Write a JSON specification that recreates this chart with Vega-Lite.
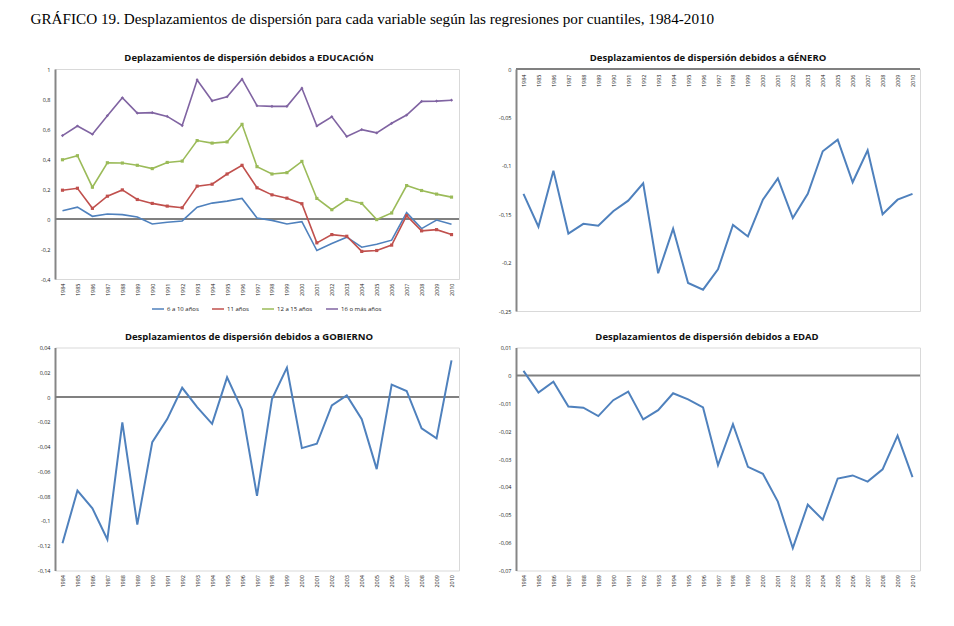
{
  "$schema": "https://vega.github.io/schema/vega-lite/v6.json",
  "padding": {"left": 28, "top": 12, "right": 10, "bottom": 5},
  "background": "white",
  "title": {
    "text": "GRÁFICO 19. Desplazamientos de dispersión para cada variable según las regresiones por cuantiles, 1984-2010",
    "anchor": "start",
    "font": "Liberation Serif",
    "fontSize": 15.2,
    "fontWeight": "normal",
    "color": "#000000",
    "dx": 2,
    "offset": 25.2
  },
  "config": {
    "locale": {
      "number": {
        "decimal": ",",
        "thousands": ".",
        "grouping": [3],
        "currency": ["", " €"],
        "minus": "-"
      }
    },
    "view": {"stroke": "#d9d9d9", "strokeWidth": 1},
    "title": {
      "font": "Open Sans",
      "fontSize": 9.5,
      "fontWeight": "bold",
      "color": "#111111",
      "offset": 4.5
    },
    "axis": {
      "labelFont": "Open Sans",
      "labelFontSize": 5.5,
      "labelColor": "#222222",
      "grid": false,
      "ticks": false,
      "title": null
    },
    "axisY": {
      "domainColor": "#868686",
      "domainWidth": 2,
      "labelPadding": 5,
      "minExtent": 26,
      "maxExtent": 26,
      "format": "~g"
    },
    "axisX": {
      "domain": false,
      "labelAngle": -90,
      "labelPadding": 4
    }
  },
  "datasets": {
    "educacion": [
      {"year": 1984, "serie": "6 a 10 años", "value": 0.055},
      {"year": 1985, "serie": "6 a 10 años", "value": 0.079},
      {"year": 1986, "serie": "6 a 10 años", "value": 0.018},
      {"year": 1987, "serie": "6 a 10 años", "value": 0.033},
      {"year": 1988, "serie": "6 a 10 años", "value": 0.029},
      {"year": 1989, "serie": "6 a 10 años", "value": 0.013},
      {"year": 1990, "serie": "6 a 10 años", "value": -0.033},
      {"year": 1991, "serie": "6 a 10 años", "value": -0.022},
      {"year": 1992, "serie": "6 a 10 años", "value": -0.013},
      {"year": 1993, "serie": "6 a 10 años", "value": 0.079},
      {"year": 1994, "serie": "6 a 10 años", "value": 0.106},
      {"year": 1995, "serie": "6 a 10 años", "value": 0.119},
      {"year": 1996, "serie": "6 a 10 años", "value": 0.137},
      {"year": 1997, "serie": "6 a 10 años", "value": 0.007},
      {"year": 1998, "serie": "6 a 10 años", "value": -0.009},
      {"year": 1999, "serie": "6 a 10 años", "value": -0.033},
      {"year": 2000, "serie": "6 a 10 años", "value": -0.018},
      {"year": 2001, "serie": "6 a 10 años", "value": -0.21},
      {"year": 2002, "serie": "6 a 10 años", "value": -0.163},
      {"year": 2003, "serie": "6 a 10 años", "value": -0.121},
      {"year": 2004, "serie": "6 a 10 años", "value": -0.188},
      {"year": 2005, "serie": "6 a 10 años", "value": -0.168},
      {"year": 2006, "serie": "6 a 10 años", "value": -0.141},
      {"year": 2007, "serie": "6 a 10 años", "value": 0.042},
      {"year": 2008, "serie": "6 a 10 años", "value": -0.064},
      {"year": 2009, "serie": "6 a 10 años", "value": -0.007},
      {"year": 2010, "serie": "6 a 10 años", "value": -0.035},
      {"year": 1984, "serie": "11 años", "value": 0.192},
      {"year": 1985, "serie": "11 años", "value": 0.205},
      {"year": 1986, "serie": "11 años", "value": 0.071},
      {"year": 1987, "serie": "11 años", "value": 0.152},
      {"year": 1988, "serie": "11 años", "value": 0.194},
      {"year": 1989, "serie": "11 años", "value": 0.13},
      {"year": 1990, "serie": "11 años", "value": 0.104},
      {"year": 1991, "serie": "11 años", "value": 0.086},
      {"year": 1992, "serie": "11 años", "value": 0.075},
      {"year": 1993, "serie": "11 años", "value": 0.219},
      {"year": 1994, "serie": "11 años", "value": 0.232},
      {"year": 1995, "serie": "11 años", "value": 0.3},
      {"year": 1996, "serie": "11 años", "value": 0.358},
      {"year": 1997, "serie": "11 años", "value": 0.208},
      {"year": 1998, "serie": "11 años", "value": 0.161},
      {"year": 1999, "serie": "11 años", "value": 0.139},
      {"year": 2000, "serie": "11 años", "value": 0.102},
      {"year": 2001, "serie": "11 años", "value": -0.159},
      {"year": 2002, "serie": "11 años", "value": -0.104},
      {"year": 2003, "serie": "11 años", "value": -0.115},
      {"year": 2004, "serie": "11 años", "value": -0.216},
      {"year": 2005, "serie": "11 años", "value": -0.21},
      {"year": 2006, "serie": "11 años", "value": -0.174},
      {"year": 2007, "serie": "11 años", "value": 0.022},
      {"year": 2008, "serie": "11 años", "value": -0.079},
      {"year": 2009, "serie": "11 años", "value": -0.071},
      {"year": 2010, "serie": "11 años", "value": -0.104},
      {"year": 1984, "serie": "12 a 15 años", "value": 0.395},
      {"year": 1985, "serie": "12 a 15 años", "value": 0.422},
      {"year": 1986, "serie": "12 a 15 años", "value": 0.212},
      {"year": 1987, "serie": "12 a 15 años", "value": 0.375},
      {"year": 1988, "serie": "12 a 15 años", "value": 0.373},
      {"year": 1989, "serie": "12 a 15 años", "value": 0.358},
      {"year": 1990, "serie": "12 a 15 años", "value": 0.336},
      {"year": 1991, "serie": "12 a 15 años", "value": 0.377},
      {"year": 1992, "serie": "12 a 15 años", "value": 0.386},
      {"year": 1993, "serie": "12 a 15 años", "value": 0.523},
      {"year": 1994, "serie": "12 a 15 años", "value": 0.506},
      {"year": 1995, "serie": "12 a 15 años", "value": 0.514},
      {"year": 1996, "serie": "12 a 15 años", "value": 0.631},
      {"year": 1997, "serie": "12 a 15 años", "value": 0.349},
      {"year": 1998, "serie": "12 a 15 años", "value": 0.3},
      {"year": 1999, "serie": "12 a 15 años", "value": 0.309},
      {"year": 2000, "serie": "12 a 15 años", "value": 0.384},
      {"year": 2001, "serie": "12 a 15 años", "value": 0.137},
      {"year": 2002, "serie": "12 a 15 años", "value": 0.062},
      {"year": 2003, "serie": "12 a 15 años", "value": 0.13},
      {"year": 2004, "serie": "12 a 15 años", "value": 0.104},
      {"year": 2005, "serie": "12 a 15 años", "value": -0.004},
      {"year": 2006, "serie": "12 a 15 años", "value": 0.04},
      {"year": 2007, "serie": "12 a 15 años", "value": 0.223},
      {"year": 2008, "serie": "12 a 15 años", "value": 0.19},
      {"year": 2009, "serie": "12 a 15 años", "value": 0.166},
      {"year": 2010, "serie": "12 a 15 años", "value": 0.146},
      {"year": 1984, "serie": "16 o más años", "value": 0.556},
      {"year": 1985, "serie": "16 o más años", "value": 0.62},
      {"year": 1986, "serie": "16 o más años", "value": 0.565},
      {"year": 1987, "serie": "16 o más años", "value": 0.689},
      {"year": 1988, "serie": "16 o más años", "value": 0.808},
      {"year": 1989, "serie": "16 o más años", "value": 0.706},
      {"year": 1990, "serie": "16 o más años", "value": 0.709},
      {"year": 1991, "serie": "16 o más años", "value": 0.684},
      {"year": 1992, "serie": "16 o más años", "value": 0.623},
      {"year": 1993, "serie": "16 o más años", "value": 0.927},
      {"year": 1994, "serie": "16 o más años", "value": 0.788},
      {"year": 1995, "serie": "16 o más años", "value": 0.815},
      {"year": 1996, "serie": "16 o más años", "value": 0.932},
      {"year": 1997, "serie": "16 o más años", "value": 0.755},
      {"year": 1998, "serie": "16 o más años", "value": 0.751},
      {"year": 1999, "serie": "16 o más años", "value": 0.751},
      {"year": 2000, "serie": "16 o más años", "value": 0.872},
      {"year": 2001, "serie": "16 o más años", "value": 0.62},
      {"year": 2002, "serie": "16 o más años", "value": 0.682},
      {"year": 2003, "serie": "16 o más años", "value": 0.55},
      {"year": 2004, "serie": "16 o más años", "value": 0.596},
      {"year": 2005, "serie": "16 o más años", "value": 0.574},
      {"year": 2006, "serie": "16 o más años", "value": 0.638},
      {"year": 2007, "serie": "16 o más años", "value": 0.693},
      {"year": 2008, "serie": "16 o más años", "value": 0.784},
      {"year": 2009, "serie": "16 o más años", "value": 0.786},
      {"year": 2010, "serie": "16 o más años", "value": 0.792}
    ],
    "genero": [
      {"year": 1984, "value": -0.129},
      {"year": 1985, "value": -0.163},
      {"year": 1986, "value": -0.105},
      {"year": 1987, "value": -0.17},
      {"year": 1988, "value": -0.16},
      {"year": 1989, "value": -0.162},
      {"year": 1990, "value": -0.147},
      {"year": 1991, "value": -0.136},
      {"year": 1992, "value": -0.118},
      {"year": 1993, "value": -0.211},
      {"year": 1994, "value": -0.165},
      {"year": 1995, "value": -0.221},
      {"year": 1996, "value": -0.228},
      {"year": 1997, "value": -0.207},
      {"year": 1998, "value": -0.161},
      {"year": 1999, "value": -0.173},
      {"year": 2000, "value": -0.135},
      {"year": 2001, "value": -0.113},
      {"year": 2002, "value": -0.154},
      {"year": 2003, "value": -0.129},
      {"year": 2004, "value": -0.085},
      {"year": 2005, "value": -0.073},
      {"year": 2006, "value": -0.117},
      {"year": 2007, "value": -0.084},
      {"year": 2008, "value": -0.15},
      {"year": 2009, "value": -0.135},
      {"year": 2010, "value": -0.129}
    ],
    "gobierno": [
      {"year": 1984, "value": -0.118},
      {"year": 1985, "value": -0.0755},
      {"year": 1986, "value": -0.0898},
      {"year": 1987, "value": -0.115},
      {"year": 1988, "value": -0.0205},
      {"year": 1989, "value": -0.103},
      {"year": 1990, "value": -0.0364},
      {"year": 1991, "value": -0.0178},
      {"year": 1992, "value": 0.0075},
      {"year": 1993, "value": -0.0081},
      {"year": 1994, "value": -0.0216},
      {"year": 1995, "value": 0.0159},
      {"year": 1996, "value": -0.0102},
      {"year": 1997, "value": -0.0798},
      {"year": 1998, "value": -0.0016},
      {"year": 1999, "value": 0.0237},
      {"year": 2000, "value": -0.0412},
      {"year": 2001, "value": -0.0377},
      {"year": 2002, "value": -0.0067},
      {"year": 2003, "value": 0.0013},
      {"year": 2004, "value": -0.0178},
      {"year": 2005, "value": -0.0582},
      {"year": 2006, "value": 0.01},
      {"year": 2007, "value": 0.0049},
      {"year": 2008, "value": -0.0253},
      {"year": 2009, "value": -0.0334},
      {"year": 2010, "value": 0.0296}
    ],
    "edad": [
      {"year": 1984, "value": 0.0016},
      {"year": 1985, "value": -0.0062},
      {"year": 1986, "value": -0.0023},
      {"year": 1987, "value": -0.0112},
      {"year": 1988, "value": -0.0116},
      {"year": 1989, "value": -0.0146},
      {"year": 1990, "value": -0.0089},
      {"year": 1991, "value": -0.0058},
      {"year": 1992, "value": -0.0158},
      {"year": 1993, "value": -0.0125},
      {"year": 1994, "value": -0.0064},
      {"year": 1995, "value": -0.0086},
      {"year": 1996, "value": -0.0115},
      {"year": 1997, "value": -0.0322},
      {"year": 1998, "value": -0.0175},
      {"year": 1999, "value": -0.0328},
      {"year": 2000, "value": -0.0353},
      {"year": 2001, "value": -0.0453},
      {"year": 2002, "value": -0.062},
      {"year": 2003, "value": -0.0464},
      {"year": 2004, "value": -0.0518},
      {"year": 2005, "value": -0.037},
      {"year": 2006, "value": -0.0359},
      {"year": 2007, "value": -0.0381},
      {"year": 2008, "value": -0.0337},
      {"year": 2009, "value": -0.0216},
      {"year": 2010, "value": -0.0365}
    ]
  },
  "spacing": 15.5,
  "vconcat": [
    {
      "spacing": 28,
      "hconcat": [
        {
          "width": 404,
          "height": 210,
          "title": {"text": "Deplazamientos de dispersión debidos a EDUCACIÓN", "dx": -8},
          "encoding": {
            "y": {
              "field": "value",
              "type": "quantitative",
              "scale": {"domain": [-0.4, 1], "nice": false, "zero": false},
              "axis": {"values": [-0.4, -0.2, 0, 0.2, 0.4, 0.6, 0.8, 1]}
            }
          },
          "layer": [
            {
              "data": {"values": [{"value": 0}]},
              "mark": {"type": "rule", "color": "#808080", "strokeWidth": 2},
              "encoding": {}
            },
            {
              "data": {"name": "educacion"},
              "mark": {"type": "line", "strokeWidth": 1.6},
              "encoding": {
                "x": {"field": "year", "type": "ordinal", "scale": {"type": "point", "padding": 0.5}},
                "color": {
                  "field": "serie",
                  "type": "nominal",
                  "scale": {
                    "domain": ["6 a 10 años", "11 años", "12 a 15 años", "16 o más años"],
                    "range": ["#4f81bd", "#c0504d", "#9bbb59", "#8064a2"]
                  },
                  "legend": {
                    "orient": "none",
                    "legendX": 96,
                    "legendY": 233,
                    "direction": "horizontal",
                    "title": null,
                    "symbolType": "stroke",
                    "symbolSize": 144,
                    "symbolStrokeWidth": 1.5,
                    "labelFont": "Open Sans",
                    "labelFontSize": 6,
                    "labelColor": "#222222",
                    "labelOffset": 2,
                    "columnPadding": 10
                  }
                }
              }
            },
            {
              "data": {"name": "educacion"},
              "transform": [{"filter": "datum.serie != '6 a 10 años'"}],
              "mark": {"type": "point", "filled": true, "size": 10, "opacity": 1},
              "encoding": {
                "x": {"field": "year", "type": "ordinal"},
                "fill": {
                  "field": "serie",
                  "type": "nominal",
                  "scale": {
                    "domain": ["11 años", "12 a 15 años", "16 o más años"],
                    "range": ["#c0504d", "#9bbb59", "#8064a2"]
                  },
                  "legend": null
                },
                "shape": {
                  "field": "serie",
                  "type": "nominal",
                  "scale": {
                    "domain": ["11 años", "12 a 15 años", "16 o más años"],
                    "range": ["square", "square", "diamond"]
                  },
                  "legend": null
                }
              }
            }
          ]
        },
        {
          "width": 404,
          "height": 242,
          "title": {"text": "Desplazamientos de dispersión debidos a GÉNERO", "dx": -10},
          "encoding": {
            "y": {
              "field": "value",
              "type": "quantitative",
              "scale": {"domain": [-0.25, 0], "nice": false, "zero": false},
              "axis": {"values": [-0.25, -0.2, -0.15, -0.1, -0.05, 0]}
            }
          },
          "layer": [
            {
              "data": {"values": [{"value": 0}]},
              "mark": {"type": "rule", "color": "#808080", "strokeWidth": 2},
              "encoding": {}
            },
            {
              "data": {"name": "genero"},
              "mark": {"type": "line", "color": "#4f81bd", "strokeWidth": 2},
              "encoding": {
                "x": {
                  "field": "year",
                  "type": "ordinal",
                  "scale": {"type": "point", "padding": 0.5},
                  "axis": {"orient": "bottom", "offset": -242, "labelPadding": 5}
                }
              }
            }
          ]
        }
      ]
    },
    {
      "spacing": 28,
      "hconcat": [
        {
          "width": 404,
          "height": 223,
          "title": {"text": "Desplazamientos de dispersión debidos a GOBIERNO", "dx": -8},
          "encoding": {
            "y": {
              "field": "value",
              "type": "quantitative",
              "scale": {"domain": [-0.14, 0.04], "nice": false, "zero": false},
              "axis": {"values": [-0.14, -0.12, -0.1, -0.08, -0.06, -0.04, -0.02, 0, 0.02, 0.04]}
            }
          },
          "layer": [
            {
              "data": {"values": [{"value": 0}]},
              "mark": {"type": "rule", "color": "#808080", "strokeWidth": 2},
              "encoding": {}
            },
            {
              "data": {"name": "gobierno"},
              "mark": {"type": "line", "color": "#4f81bd", "strokeWidth": 2},
              "encoding": {
                "x": {"field": "year", "type": "ordinal", "scale": {"type": "point", "padding": 0.5}}
              }
            }
          ]
        },
        {
          "width": 404,
          "height": 223,
          "title": {"text": "Desplazamientos de dispersión debidos a EDAD", "dx": -11},
          "encoding": {
            "y": {
              "field": "value",
              "type": "quantitative",
              "scale": {"domain": [-0.07, 0.01], "nice": false, "zero": false},
              "axis": {"values": [-0.07, -0.06, -0.05, -0.04, -0.03, -0.02, -0.01, 0, 0.01]}
            }
          },
          "layer": [
            {
              "data": {"values": [{"value": 0}]},
              "mark": {"type": "rule", "color": "#808080", "strokeWidth": 2},
              "encoding": {}
            },
            {
              "data": {"name": "edad"},
              "mark": {"type": "line", "color": "#4f81bd", "strokeWidth": 2},
              "encoding": {
                "x": {"field": "year", "type": "ordinal", "scale": {"type": "point", "padding": 0.5}}
              }
            }
          ]
        }
      ]
    }
  ]
}
